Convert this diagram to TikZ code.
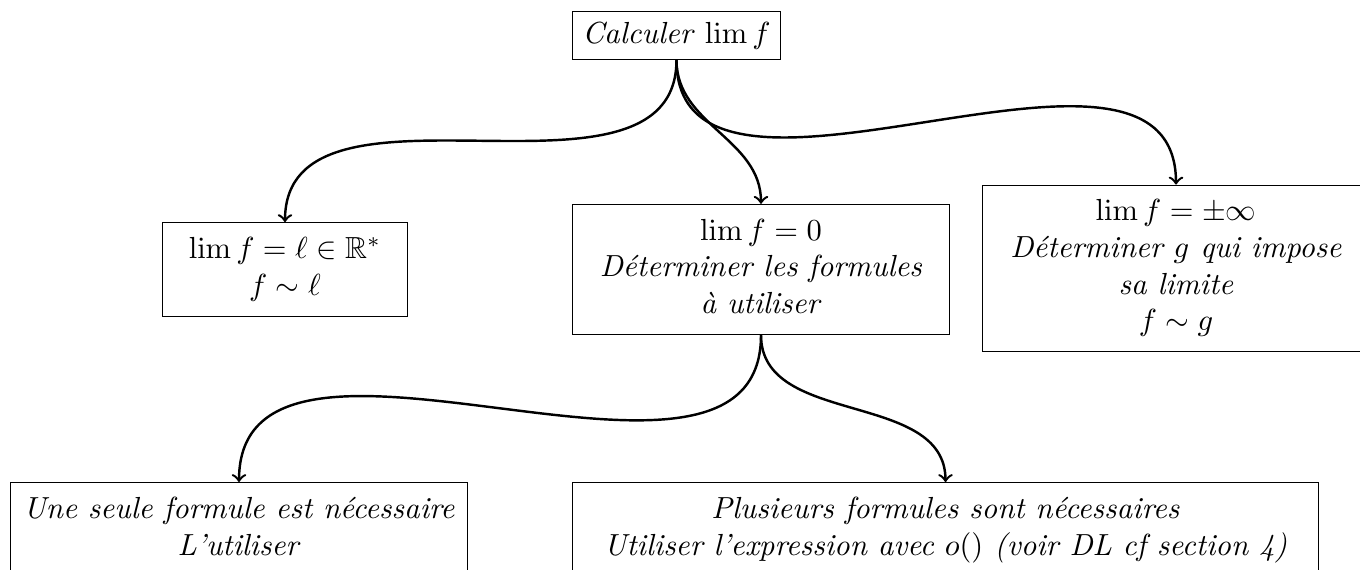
\documentclass[tikz,border=0pt]{standalone}
\usepackage{amsmath,amssymb}
\begin{document}
\begin{tikzpicture}[->, thick, box node/.style={rectangle,draw,thin,align=flush center,inner sep=3.33pt}, text node/.style={box node,execute at begin node=\strut,execute at end node=\strut}]
\useasboundingbox (0,0) rectangle (15.671,-6.568);
\begin{scope}
\node[box node] (calc) at (7.795,-0.409) {\textit{Calculer} $\lim f$};
\node[text node,text width=2.59cm] (lfin) at (3.284,-3.105) {$\lim f = \ell \in \mathbb{R}^*$\\ $f \sim \ell$};
\node[text node,text width=4.11cm] (lzero) at (8.769,-3.105) {$\lim f = 0$\\ \textit{Déterminer les formules}\\ \textit{à utiliser}};
\node[text node,text width=4.22cm] (linf) at (13.551,-3.094) {$\lim f = \pm\infty$\\ \textit{Déterminer $g$ qui impose}\\ \textit{sa limite}\\ $f \sim g$};
\node[text node,text width=5.03cm] (une) at (2.754,-6.100) {\textit{Une seule formule est nécessaire}\\ \textit{L'utiliser}};
\node[text node,text width=8.36cm] (plus) at (10.895,-6.100) {\textit{Plusieurs formules sont nécessaires}\\ \textit{Utiliser l'expression avec $o()$ (voir DL cf section 4)}};
\end{scope}
\begin{scope}
\draw (calc) edge[out=-90,in=90] (lfin);
\draw (calc) edge[out=-90,in=90] (lzero);
\draw (calc) edge[out=-90,in=90] (linf);
\draw (lzero) edge[out=-90,in=90] (une);
\draw (lzero) edge[out=-90,in=90] (plus);
\end{scope}
\end{tikzpicture}
\end{document}
